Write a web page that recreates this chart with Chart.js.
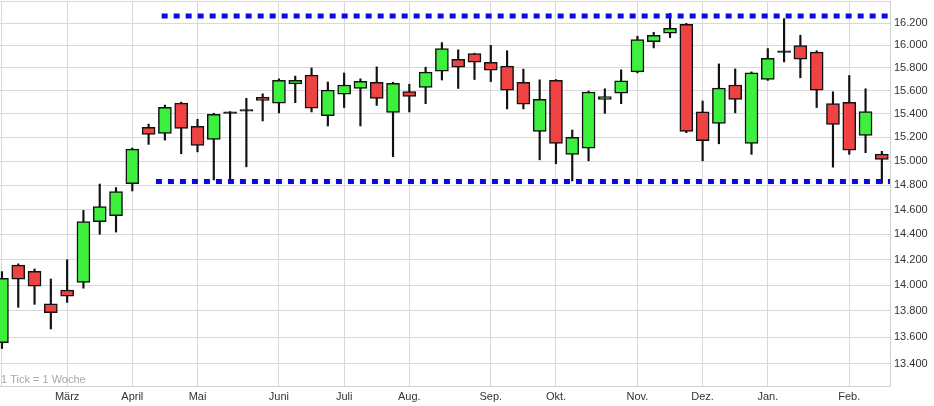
<!DOCTYPE html>
<html>
<head>
<meta charset="utf-8">
<script src="https://cdn.jsdelivr.net/npm/chart.js@4.4.1/dist/chart.umd.min.js"></script>
<style>
  html, body { margin: 0; padding: 0; background: #fff; }
  #wrap { width: 934px; height: 406px; position: relative; }
</style>
</head>
<body>
<div id="wrap"><canvas id="candleChart"></canvas></div>
<script>
// weekly candles, index 0 = first week shown
const opens  = [13557, 14156, 14108, 13853, 13960, 14021, 14503, 14551, 14814, 15285,
                15234, 15493, 15293, 15183, 15405, 15424, 15542, 15492, 15660, 15737,
                15386, 15571, 15621, 15674, 15412, 15594, 15630, 15771, 15876, 15926,
                15850, 15815, 15674, 15251, 15692, 15057, 15110, 15524, 15580, 15765,
                16033, 16108, 16188, 15417, 15319, 15649, 15150, 15698, 15937, 15997,
                15940, 15488, 15500, 15217, 15059];
const highs  = [14105, 14166, 14126, 14047, 14198, 14594, 14810, 14781, 15110, 15313,
                15476, 15502, 15354, 15406, 15420, 15534, 15574, 15704, 15728, 15800,
                15676, 15755, 15704, 15809, 15674, 15657, 15806, 16024, 15960, 15930,
                16000, 15952, 15789, 15695, 15698, 15262, 15597, 15617, 15783, 16081,
                16117, 16287, 16197, 15511, 15835, 15791, 15765, 15971, 16240, 16090,
                15952, 15591, 15733, 15617, 15082];
const lows   = [13513, 13827, 13850, 13661, 13865, 13975, 14402, 14419, 14753, 15141,
                15177, 15062, 15078, 14844, 14826, 14953, 15340, 15409, 15497, 15417,
                15297, 15455, 15297, 15473, 15037, 15417, 15488, 15694, 15620, 15698,
                15680, 15443, 15443, 15011, 14978, 14835, 15003, 15405, 15488, 15756,
                15977, 16069, 15240, 15003, 15146, 15409, 15057, 15690, 15853, 15713,
                15455, 14950, 15057, 15071, 14816];
const closes = [14053, 14045, 13990, 13785, 13914, 14503, 14625, 14748, 15101, 15225,
                15456, 15276, 15133, 15397, 15418, 15437, 15516, 15692, 15692, 15449,
                15606, 15650, 15683, 15533, 15665, 15550, 15763, 15971, 15806, 15850,
                15780, 15606, 15483, 15525, 15150, 15200, 15589, 15550, 15686, 16051,
                16090, 16152, 15251, 15172, 15623, 15526, 15756, 15884, 15950, 15876,
                15606, 15311, 15092, 15421, 15014];

const monthTicks = [0, 4, 8, 12, 17, 21, 25, 30, 34, 39, 43, 47, 52];
const monthNames = ["", "März", "April", "Mai", "Juni", "Juli", "Aug.", "Sep.", "Okt.", "Nov.", "Dez.", "Jan.", "Feb."];
const priceTicks = [13400, 13600, 13800, 14000, 14200, 14400, 14600, 14800, 15000,
                    15200, 15400, 15600, 15800, 16000, 16200, 16400];

// horizontal resistance / support lines
const resistance = { level: 16263, from: 9.8, to: 54.5 };
const support = { level: 14830, from: 9.45, to: 54.5 };

const upColor = "#3ef03e";
const downColor = "#ef4343";
const dojiColor = "#111";

const bodies = opens.map((o, i) => ({ x: i, y: [o, closes[i]] }));
const wicks = lows.map((l, i) => ({ x: i, y: [l, highs[i]] }));
const bodyColors = opens.map((o, i) => {
  const c = closes[i];
  if (Math.abs(c - o) < 20) return dojiColor;   // doji = flat line
  return c >= o ? upColor : downColor;
});

function fmtPrice(v) {
  const t = Math.floor(v / 1000);
  const r = String(Math.round(v % 1000)).padStart(3, "0");
  return t + "." + r;
}

const noteText = {
  id: "noteText",
  afterDraw(chart) {
    const ctx = chart.ctx;
    ctx.save();
    ctx.font = "11px 'Liberation Sans', Arial, sans-serif";
    ctx.fillStyle = "#a8a8a8";
    ctx.textBaseline = "middle";
    ctx.fillText("1 Tick = 1 Woche", chart.chartArea.left + 1, chart.chartArea.bottom - 6);
    ctx.restore();
  }
};

Chart.defaults.font.family = "'Liberation Sans', Arial, sans-serif";
Chart.defaults.font.size = 11;
Chart.defaults.color = "#333";

new Chart(document.getElementById("candleChart"), {
  type: "bar",
  data: {
    datasets: [
      {
        type: "line",
        data: [{ x: resistance.from, y: resistance.level }, { x: resistance.to, y: resistance.level }],
        borderColor: "#0a0ae8",
        borderWidth: 5,
        borderDash: [6, 6],
        pointRadius: 0,
        order: 0
      },
      {
        type: "line",
        data: [{ x: support.from, y: support.level }, { x: support.to, y: support.level }],
        borderColor: "#0a0ae8",
        borderWidth: 5,
        borderDash: [6, 6],
        pointRadius: 0,
        order: 0
      },
      {
        data: bodies,
        backgroundColor: bodyColors,
        borderColor: "#111",
        borderWidth: 1.5,
        borderSkipped: false,
        barThickness: 13,
        grouped: false,
        order: 1
      },
      {
        data: wicks,
        backgroundColor: "#111",
        borderWidth: 0,
        barThickness: 1.5,
        grouped: false,
        order: 2
      }
    ]
  },
  options: {
    responsive: true,
    maintainAspectRatio: false,
    animation: false,
    layout: { padding: { top: 1, left: 0, right: 0, bottom: 0 } },
    plugins: {
      legend: { display: false },
      tooltip: { enabled: false }
    },
    scales: {
      x: {
        type: "linear",
        offset: false,
        min: -0.12,
        max: 54.5,
        afterBuildTicks: (scale) => { scale.ticks = monthTicks.map(v => ({ value: v })); },
        afterFit: (scale) => {
          scale.height = 20;
          scale.paddingLeft = 0;
          scale.paddingRight = 0;
        },
        ticks: {
          padding: 4,
          maxRotation: 0,
          autoSkip: false,
          callback: (v) => monthNames[monthTicks.indexOf(v)]
        },
        grid: { color: "#d8d8d8", drawTicks: false, offset: false },
        border: { color: "#d0d0d0" }
      },
      y: {
        type: "logarithmic",
        position: "right",
        min: 13234,
        max: 16400,
        afterBuildTicks: (scale) => { scale.ticks = priceTicks.map(v => ({ value: v })); },
        afterFit: (scale) => {
          scale.width = 44;
          scale.paddingTop = 0;
          scale.paddingBottom = 0;
        },
        ticks: {
          padding: 4,
          autoSkip: false,
          callback: (v) => v >= 16400 ? "" : fmtPrice(v)
        },
        grid: { color: "#d8d8d8", drawTicks: false },
        border: { color: "#d0d0d0" }
      }
    }
  },
  plugins: [noteText]
});
</script>
</body>
</html>
